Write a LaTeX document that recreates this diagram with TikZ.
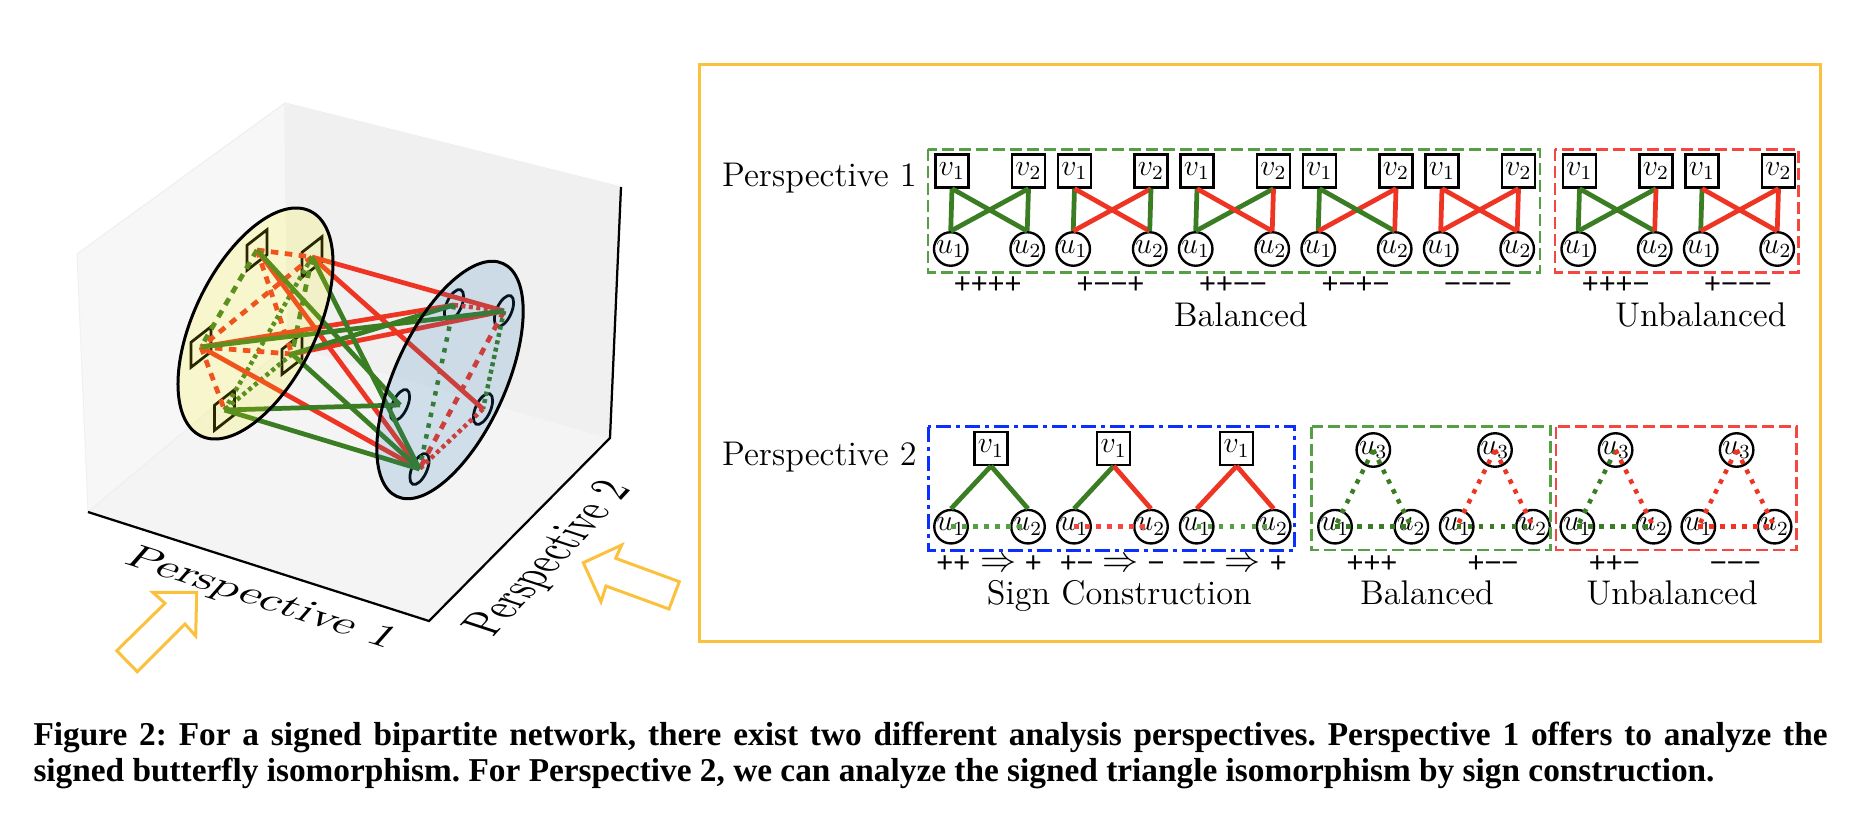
\documentclass[tikz,border=0pt]{standalone}
\usepackage{amsmath}
\usepackage{fontspec}
\usetikzlibrary{shapes.geometric}
\newfontfamily\capfont{Liberation Serif}
\newfontfamily\signfont{Liberation Sans}

\definecolor{sgreen}{HTML}{3A7D22}
\definecolor{sred}{HTML}{EE3524}
\definecolor{lgreen}{HTML}{559F45}
\definecolor{lred}{HTML}{F4473F}
\definecolor{gold}{HTML}{FBC13C}
\definecolor{sblue}{HTML}{0A2FFF}
\definecolor{setblue}{HTML}{1F77B4}

\tikzset{
    vbox/.style={draw, rectangle, line width=0.95pt, minimum size=13.2pt, inner sep=0pt, font=\fontsize{12}{14}\selectfont},
    ucirc/.style={draw, circle, line width=0.95pt, minimum size=13.4pt, inner sep=0pt, font=\fontsize{12}{14}\selectfont},
    edge/.style={line width=1.9pt},
    dotedge/.style={line width=1.8pt, dash pattern=on 1.8pt off 2.6pt},
    dashedge/.style={line width=1.9pt, dash pattern=on 3pt off 2.6pt},
    denseedge/.style={line width=1.8pt, dash pattern=on 1.6pt off 1.4pt},
    groupbox/.style={line width=1pt, dash pattern=on 4.8pt off 2pt},
    signbox/.style={line width=1.2pt, sblue, dash pattern=on 6pt off 2pt on 1.6pt off 2pt},
    lbl/.style={anchor=base, inner sep=0pt, font=\fontsize{13.7}{16}\selectfont},
    signs/.style={anchor=base, inner sep=0pt, font=\fontsize{11.6}{13}\signfont},
    caption/.style={anchor=base west, inner sep=0pt, font=\fontsize{13.33}{15}\capfont\bfseries\frenchspacing},
    mark3d/.style={draw, rectangle, line width=1.1pt, minimum width=8pt, minimum height=10pt, inner sep=0pt, yslant=0.78},
    ring3d/.style={draw, ellipse, line width=1.1pt, minimum width=13.3pt, minimum height=6pt, inner sep=0pt, rotate=66},
    setdisc/.style={draw, ellipse, line width=1.2pt, inner sep=0pt, fill opacity=0.17, draw opacity=1},
    hollow/.style={draw=gold, line width=1.2pt, line join=miter},
    pane/.style={draw=black!6, line width=0.4pt}
}

\begin{document}
\begin{tikzpicture}[x=0.4pt, y=-0.4pt]
    \useasboundingbox (0,0) rectangle (1858,826);

    % box of the 3d plot
    \coordinate (apex) at (285,103);
    \coordinate (wl) at (77,254);
    \coordinate (wr) at (621,187);
    \coordinate (fl) at (88,512);
    \coordinate (fb) at (288,345);
    \coordinate (fr) at (610,438);
    \coordinate (ff) at (429,621);
    \fill[pane, fill=black!3] (apex) -- (wl) -- (fl) -- (fb) -- cycle;
    \fill[pane, fill=black!6] (apex) -- (wr) -- (fr) -- (fb) -- cycle;
    \fill[pane, fill=black!4.5] (fl) -- (fb) -- (fr) -- (ff) -- cycle;
    \draw[pane] (wl) -- (apex) -- (wr) (apex) -- (fb) -- (fl) (fb) -- (fr);
    \draw[line width=0.9pt] (fl) -- (ff) -- (fr) -- (wr);

    % nodes of the two sets
    \node[mark3d] (y1) at (257,250) {};
    \node[mark3d] (y2) at (312,257) {};
    \node[mark3d] (y3) at (201,347) {};
    \node[mark3d] (y4) at (292,354) {};
    \node[mark3d] (y5) at (224.5,410) {};

    \node[ring3d] (x1) at (454,305) {};
    \node[ring3d] (x2) at (504,311) {};
    \node[ring3d] (x3) at (400,405) {};
    \node[ring3d] (x4) at (483,409) {};
    \node[ring3d] (x5) at (419.5,469) {};

    % edges inside the sets
    \draw[dashedge, sred] (y1.center) -- (y2.center);
    \draw[dashedge, sgreen] (y1.center) -- (y3.center);
    \draw[dashedge, sred] (y1.center) -- (y4.center);
    \draw[dashedge, sred] (y2.center) -- (y3.center);
    \draw[dashedge, sgreen] (y2.center) -- (y4.center);
    \draw[denseedge, sgreen] (y2.center) -- (y5.center);
    \draw[dashedge, sred] (y3.center) -- (y4.center);
    \draw[dashedge, sred] (y3.center) -- (y5.center);
    \draw[denseedge, sgreen] (y4.center) -- (y5.center);

    \draw[denseedge, sred] (x1.center) -- (x2.center);
    \draw[dotedge, sgreen] (x1.center) -- (x5.center);
    \draw[dashedge, sred] (x2.center) -- (x5.center);
    \draw[denseedge, sgreen] (x2.center) -- (x4.center);
    \draw[denseedge, sred] (x4.center) -- (x5.center);

    % edges between the sets
    \foreach \a/\b in {y2/x2, y2/x4, y1/x5, y3/x1, y3/x5, y4/x2}
        \draw[edge, sred] (\a.center) -- (\b.center);
    \foreach \a/\b in {y1/x3, y2/x5, y3/x2, y4/x1, y4/x5, y5/x3, y5/x5}
        \draw[edge, sgreen] (\a.center) -- (\b.center);

    \node[setdisc, fill=yellow, minimum width=100pt, minimum height=48.8pt, rotate=64] (setv) at (255.5,323.5) {};
    \node[setdisc, fill=setblue, minimum width=102.4pt, minimum height=44.3pt, rotate=65.5] (setu) at (450,380) {};

    \node[anchor=base, inner sep=0pt, font=\fontsize{10}{12}\selectfont, cm={1.818,-0.584,0.97,1.10,(0,0)}] (axis1) at (255,606) {Perspective 1};
    \node[anchor=base, inner sep=0pt, font=\fontsize{10}{12}\selectfont, cm={0.955,1.024,-2.0,0.66,(0,0)}] (axis2) at (563,563) {Perspective 2};

    \draw[hollow] (196.7,592.3) -- (152.7,592.3) -- (165,603.3) -- (116.7,650.7) -- (137.3,671.7) -- (185,624) -- (195.7,636) -- cycle;
    \draw[hollow] (583.3,562.7) -- (621.7,545) -- (615.7,558.3) -- (679.3,581.7) -- (669,609) -- (606,586) -- (601,601.7) -- cycle;

    % right panel
    \draw[gold, line width=1.2pt] (699,65) rectangle (1820,641);
    \node[lbl, anchor=base west] (per1) at (721.7,187) {Perspective 1};
    \node[lbl, anchor=base west] (per2) at (721.7,465.7) {Perspective 2};

    % butterflies
    \foreach \n/\x/\ca/\cb/\cc/\cd in {
        1/952/sgreen/sgreen/sgreen/sgreen,
        2/1074.5/sgreen/sred/sred/sgreen,
        3/1197/sgreen/sgreen/sred/sred,
        4/1319.5/sgreen/sred/sgreen/sred,
        5/1442/sred/sred/sred/sred,
        6/1579.5/sgreen/sgreen/sgreen/sred,
        7/1702/sgreen/sred/sred/sred} {
        \node[vbox] (a\n) at (\x,171) {$v_1$};
        \node[vbox] (b\n) at (\x+76.5,171) {$v_2$};
        \node[ucirc] (c\n) at (\x-1.3,249) {$u_1$};
        \node[ucirc] (d\n) at (\x+75.2,249) {$u_2$};
        \draw[edge, \ca] (a\n.south) -- (c\n.north);
        \draw[edge, \cb] (b\n.south) -- (c\n.north);
        \draw[edge, \cc] (a\n.south) -- (d\n.north);
        \draw[edge, \cd] (b\n.south) -- (d\n.north);
    }
    \draw[groupbox, lgreen] (928,149.3) rectangle (1540,272.7);
    \draw[groupbox, lred] (1555,149.3) rectangle (1798.3,272.7);

    \node[signs] (s1) at (987.7,293) {++++};
    \node[signs] (s2) at (1110.5,293) {+−−+};
    \node[signs] (s3) at (1233,293) {++−−};
    \node[signs] (s4) at (1355.6,293) {+−+−};
    \node[signs] (s5) at (1478,293) {−−−−};
    \node[signs] (s6) at (1615.7,293) {+++−};
    \node[signs] (s7) at (1738,293) {+−−−};
    \node[lbl] (bal1) at (1240.8,326.7) {Balanced};
    \node[lbl] (unb1) at (1700.7,326.7) {Unbalanced};

    % sign construction
    \foreach \n/\x/\y/\ca/\cb/\cc in {
        1/991/951/sgreen/sgreen/lgreen,
        2/1113.7/1074/sgreen/sred/lred,
        3/1236.7/1196.7/sred/sred/lgreen} {
        \node[vbox] (e\n) at (\x,448.3) {$v_1$};
        \node[ucirc] (f\n) at (\y,526.7) {$u_1$};
        \node[ucirc] (g\n) at (\y+77,526.7) {$u_2$};
        \draw[edge, \ca] (e\n.south) -- (f\n.north);
        \draw[edge, \cb] (e\n.south) -- (g\n.north);
        \draw[dotedge, \cc] (f\n.center) -- (g\n.center);
    }
    \draw[signbox] (928,426.7) rectangle (1294.5,550);

    % triangles
    \foreach \n/\x/\ca/\cb/\cc in {
        1/1335/sgreen/sgreen/sgreen,
        2/1456.7/sred/sred/sgreen,
        3/1577.3/sgreen/sred/sgreen,
        4/1698.3/sred/sred/sred} {
        \node[ucirc] (h\n) at (\x+38.3,450) {$u_3$};
        \node[ucirc] (j\n) at (\x,526.7) {$u_1$};
        \node[ucirc] (k\n) at (\x+76.3,526.7) {$u_2$};
        \draw[dotedge, \ca] (h\n.center) -- (j\n.center);
        \draw[dotedge, \cb] (h\n.center) -- (k\n.center);
        \draw[dotedge, \cc] (j\n.center) -- (k\n.center);
    }
    \draw[groupbox, lgreen] (1311.5,426.7) rectangle (1550.7,550);
    \draw[groupbox, lred] (1556,426.7) rectangle (1796.7,550);

    \node[signs] (t1) at (953.3,572) {++};
    \node[lbl] (r1) at (998.3,571) {$\Rightarrow$};
    \node[signs] (t2) at (1033.3,572) {+};
    \node[signs] (t3) at (1076.7,572) {+−};
    \node[lbl] (r2) at (1120.3,571) {$\Rightarrow$};
    \node[signs] (t4) at (1156,572) {−};
    \node[signs] (t5) at (1199,572) {−−};
    \node[lbl] (r3) at (1242.7,571) {$\Rightarrow$};
    \node[signs] (t6) at (1278.3,572) {+};
    \node[signs] (t7) at (1372,572) {+++};
    \node[signs] (t8) at (1493,572) {+−−};
    \node[signs] (t9) at (1614.3,572) {++−};
    \node[signs] (t10) at (1735.3,572) {−−−};
    \node[lbl] (sc) at (1119.3,604) {Sign Construction};
    \node[lbl] (bal2) at (1427,604.5) {Balanced};
    \node[lbl] (unb2) at (1672,604.5) {Unbalanced};

    \node[caption] (cap1) at (33,745) {\hbox to 717.6pt{Figure 2: For a signed bipartite network, there exist two different analysis perspectives. Perspective 1 offers to analyze the}};
    \node[caption] (cap2) at (33,781) {signed butterfly isomorphism. For Perspective 2, we can analyze the signed triangle isomorphism by sign construction.};
\end{tikzpicture}
\end{document}
